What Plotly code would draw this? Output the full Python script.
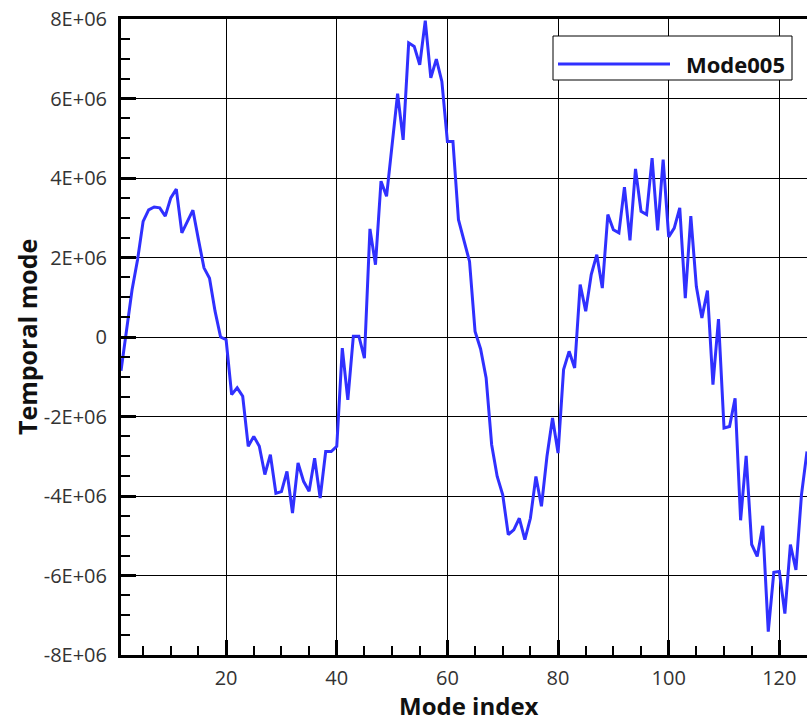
import plotly.graph_objects as go

# Temporal coefficient of mode 5 against mode index (values in units of 1E+06)
mode_index = list(range(1, 126))
mode005_e6 = [
    -0.85, 0.15, 1.19, 1.95, 2.91, 3.20, 3.27, 3.25, 3.04, 3.50,
    3.72, 2.62, 2.90, 3.19, 2.45, 1.74, 1.48, 0.65, 0.00, -0.07,
    -1.45, -1.28, -1.49, -2.75, -2.50, -2.75, -3.46, -2.96, -3.93, -3.89,
    -3.38, -4.43, -3.17, -3.63, -3.88, -3.05, -4.05, -2.88, -2.88, -2.75,
    -0.28, -1.58, 0.02, 0.02, -0.53, 2.72, 1.82, 3.92, 3.54, 4.80,
    6.12, 4.96, 7.40, 7.31, 6.85, 7.96, 6.52, 6.99, 6.43, 4.92,
    4.92, 2.95, 2.45, 1.90, 0.14, -0.30, -1.03, -2.71, -3.51, -3.97,
    -4.97, -4.85, -4.56, -5.10, -4.56, -3.51, -4.26, -3.00, -2.04, -2.92,
    -0.82, -0.36, -0.78, 1.32, 0.65, 1.57, 2.07, 1.23, 3.08, 2.70,
    2.62, 3.77, 2.43, 4.23, 3.16, 3.08, 4.50, 2.68, 4.46, 2.52,
    2.74, 3.25, 0.98, 3.04, 1.27, 0.48, 1.17, -1.20, 0.45, -2.29,
    -2.25, -1.54, -4.61, -2.99, -5.22, -5.52, -4.75, -7.41, -5.92, -5.90,
    -6.96, -5.22, -5.86, -3.97, -2.88,
]
mode005 = [v * 1e6 for v in mode005_e6]

series_name = "Mode005"
x_tickvals = [20, 40, 60, 80, 100, 120]
y_tickvals = [-8e6, -6e6, -4e6, -2e6, 0, 2e6, 4e6, 6e6, 8e6]
y_ticktext = ["-8E+06", "-6E+06", "-4E+06", "-2E+06", "0",
              "2E+06", "4E+06", "6E+06", "8E+06"]

LINE_BLUE = "#3030ff"
FONT = "Open Sans, DejaVu Sans, sans-serif"

fig = go.Figure()
fig.add_trace(go.Scatter(
    x=mode_index, y=mode005, mode="lines", name=series_name,
    line=dict(color=LINE_BLUE, width=3), showlegend=False,
))

axis_common = dict(
    showline=True, linecolor="black", linewidth=3,
    ticks="inside", ticklen=15, tickwidth=3, tickcolor="black",
    showgrid=True, gridcolor="black", gridwidth=1,
    zeroline=False,
    tickfont=dict(family=FONT, size=20, color="#333333"),
)

fig.update_xaxes(
    range=[1, 125], tickvals=x_tickvals, mirror=True,
    minor=dict(dtick=5, tick0=0, ticks="inside", ticklen=9, tickwidth=1.5,
               tickcolor="black", showgrid=False),
    ticklabelstandoff=3,
    **axis_common,
)
fig.update_yaxes(
    range=[-8e6, 8e6], tickvals=y_tickvals, ticktext=y_ticktext,
    minor=dict(dtick=5e5, tick0=0, ticks="inside", ticklen=9, tickwidth=1.5,
               tickcolor="black", showgrid=False),
    ticklabelstandoff=7,
    **axis_common,
)

# plot area geometry in pixels, used to place the legend box
L, T, W, H = 121, 19, 686, 636
def px(p):
    return (p - L) / W
def py(p):
    return (T + H - p) / H

shapes = [
    dict(type="rect", xref="paper", yref="paper",
         x0=px(553), x1=px(792), y0=py(80), y1=py(36),
         line=dict(color="black", width=1), fillcolor="white", layer="above"),
    dict(type="line", xref="paper", yref="paper",
         x0=px(558), x1=px(670), y0=py(64), y1=py(64),
         line=dict(color=LINE_BLUE, width=3), layer="above"),
]

annotations = [
    dict(text="<b>" + series_name + "</b>", xref="paper", yref="paper",
         x=px(787), y=py(64), xanchor="right", yanchor="middle",
         showarrow=False, font=dict(family=FONT, size=22, color="#111111")),
    dict(text="<b>Mode index</b>", xref="paper", yref="paper",
         x=0.5, y=0, xshift=5, yshift=-50, xanchor="center", yanchor="middle",
         showarrow=False, font=dict(family=FONT, size=24, color="#111111")),
    dict(text="<b>Temporal mode</b>", xref="paper", yref="paper",
         x=0, y=0.5, xshift=-94, xanchor="center", yanchor="middle",
         textangle=-90, showarrow=False,
         font=dict(family=FONT, size=25, color="#111111")),
]

fig.update_layout(
    width=807, height=721,
    margin=dict(l=L, r=807 - L - W, t=T, b=721 - T - H, pad=0),
    paper_bgcolor="white", plot_bgcolor="white",
    shapes=shapes, annotations=annotations,
    showlegend=False,
)

fig.write_html("out.html")
